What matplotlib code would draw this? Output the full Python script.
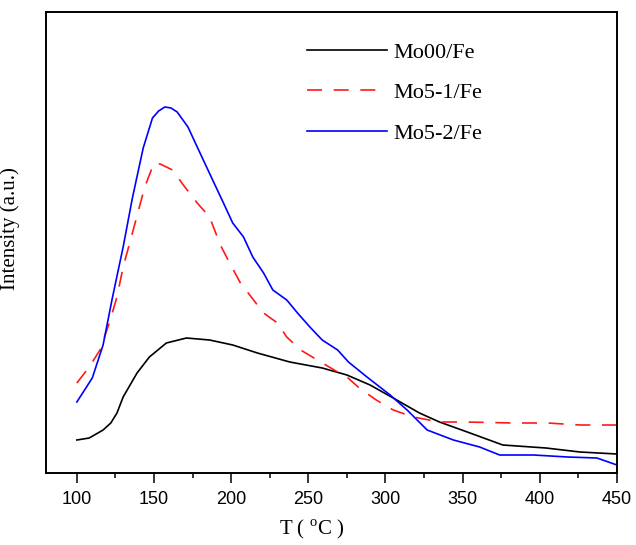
import numpy as np
import matplotlib
matplotlib.use("Agg")
import matplotlib.pyplot as plt
from matplotlib.ticker import MultipleLocator

# TPD-like profiles, intensity in arbitrary units
T_mo00 = [100, 108, 117, 122, 126, 130, 139, 147, 158, 171, 186, 201, 217, 238, 259,
          275, 290, 305, 322, 335, 353, 376, 404, 426, 450]
I_mo00 = [33, 35, 43, 50, 60, 76, 100, 116, 130, 135, 133, 128, 120, 111, 105,
          98, 88, 75, 60, 51, 41, 28, 25, 21, 19]

T_mo51 = [100, 108, 115, 121, 126, 130, 136, 140, 144, 150, 154, 162, 169, 178,
          186, 193, 199, 206, 213, 221, 230, 236, 245, 258, 269, 275, 283, 294,
          305, 318, 335, 352, 383, 405, 426, 450]
I_mo51 = [90, 106, 123, 150, 176, 206, 240, 263, 286, 310, 309, 303, 288, 270,
          256, 228, 210, 190, 176, 160, 150, 136, 123, 111, 101, 96, 85, 73,
          63, 56, 51, 51, 50, 50, 48, 48]

T_mo52 = [100, 110, 117, 123, 130, 136, 143, 149, 153, 157, 161, 165, 172, 178, 188, 195,
          201, 208, 214, 221, 227, 236, 243, 251, 259, 269, 276, 288, 303, 314,
          327, 344, 361, 374, 396, 418, 437, 450]
I_mo52 = [71, 95, 128, 175, 226, 275, 325, 355, 362, 366, 365, 361, 346, 326, 293, 270,
          250, 236, 216, 200, 183, 173, 160, 146, 133, 123, 111, 96, 78, 63,
          43, 33, 26, 18, 18, 16, 15, 8]

labels = ["Mo00/Fe", "Mo5-1/Fe", "Mo5-2/Fe"]
x_ticks = [100, 150, 200, 250, 300, 350, 400, 450]

plt.rcParams["mathtext.fontset"] = "custom"
plt.rcParams["mathtext.rm"] = "Liberation Serif"
serif = "Liberation Serif"

fig = plt.figure(figsize=(6.36, 5.45), dpi=100)
axs = fig.add_axes([0.0723, 0.1321, 0.8978, 0.8459])

axs.plot(T_mo00, I_mo00, color="black", lw=1.2, label=labels[0])
axs.plot(T_mo51, I_mo51, color="#ff1a1a", lw=1.2, linestyle=(0, (9, 7)), label=labels[1])
axs.plot(T_mo52, I_mo52, color="#0000ff", lw=1.2, label=labels[2])

axs.set_xlim(80, 450)
axs.set_ylim(0, 461)
axs.set_xticks(x_ticks)
axs.xaxis.set_minor_locator(MultipleLocator(25))
axs.set_yticks([])

axs.tick_params(axis="x", which="major", direction="out", length=7.2, width=1.1,
                pad=6, labelsize=13)
axs.tick_params(axis="x", which="minor", direction="out", length=3.6, width=1.1)
for lab in axs.get_xticklabels():
    lab.set_fontfamily("Liberation Sans")

for sp in axs.spines.values():
    sp.set_linewidth(1.4)

axs.set_xlabel(r"T ( $^{\rm o}$C )", fontsize=15, fontfamily=serif)
axs.xaxis.set_label_coords(0.465, -0.097)
axs.set_ylabel("Intensity (a.u.)", fontsize=15, fontfamily=serif)
axs.yaxis.set_label_coords(-0.045, 0.53)

axs.legend(loc="upper left", bbox_to_anchor=(307 / 636, 1 - 42 / 545),
           bbox_transform=fig.transFigure, frameon=False, borderpad=0,
           borderaxespad=0, handlelength=3.6, handletextpad=0.3,
           labelspacing=0.9, prop={"family": serif, "size": 16})

plt.savefig("out.png", dpi=100)
